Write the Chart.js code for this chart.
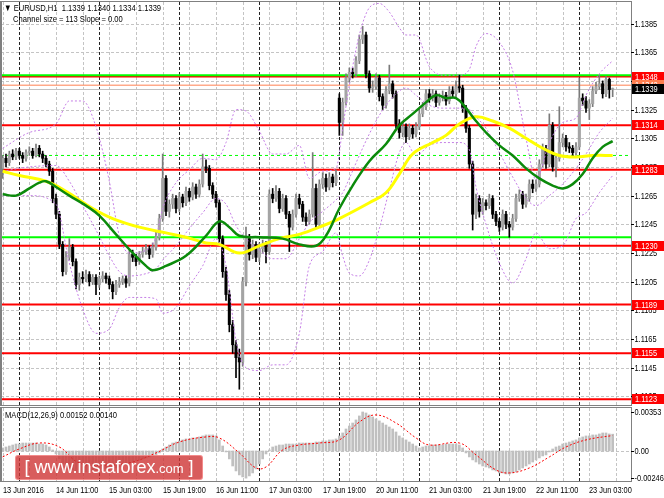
<!DOCTYPE html>
<html>
<head>
<meta charset="utf-8">
<script src="https://cdn.jsdelivr.net/npm/chart.js@4.4.0/dist/chart.umd.min.js"></script>
<style>
  body { margin: 0; background: #fff; width: 664px; height: 498px; overflow: hidden; position: relative; }
  canvas { position: absolute; left: 0; }
  #priceChart { top: 0; }
  #macdChart { top: 406px; }
  .txt { position: absolute; font: 9.5px "Liberation Sans", Arial, sans-serif; line-height: 11px; color: #000;
         white-space: pre; transform: scaleX(0.8); transform-origin: 0 0; }
  .logo { position: absolute; left: 15px; top: 455px; width: 186px; height: 23px; background: rgba(206, 52, 52, 0.8);
          border: 1px solid rgba(255, 160, 160, 0.7); border-radius: 3px; color: #fff; white-space: nowrap;
          font: 18px "Liberation Sans", Arial, sans-serif; line-height: 23px; text-align: center; }
  .logo small { font-size: 13px; }
</style>
</head>
<body>
<canvas id="priceChart" width="664" height="406"></canvas>
<canvas id="macdChart" width="664" height="92"></canvas>
<div class="txt" style="left:4px;top:2px">▼ EURUSD,H1  1.1339 1.1340 1.1334 1.1339</div>
<div class="txt" style="left:13px;top:13px">Channel size = 113 Slope = 0.00</div>
<div class="txt" style="left:5px;top:409px">MACD(12,26,9) 0.00152 0.00140</div>
<div class="logo">[ www.instaforex<small>.com</small> ]</div>
<script>
// EURUSD H1, 13 Jun 19:00 .. 23 Jun 10:00 (one entry per hourly bar)
const opens = [1.1284,1.1291,1.1288,1.1294,1.1292,1.1296,1.1293,1.1291,1.1295,1.1296,
  1.1293,1.1298,1.1294,1.1291,1.1287,1.1282,1.1263,1.1252,1.1231,1.1212,
  1.1222,1.1229,1.1219,1.1203,1.1208,1.1207,1.1210,1.1205,1.1208,1.1203,
  1.1207,1.1209,1.1207,1.1203,1.1198,1.1203,1.1205,1.1207,1.1204,1.1224,
  1.1222,1.1219,1.1224,1.1226,1.1228,1.1224,1.1229,1.1236,1.1249,1.1277,
  1.1254,1.1259,1.1263,1.1256,1.1264,1.1260,1.1268,1.1264,1.1271,1.1266,
  1.1273,1.1285,1.1284,1.1272,1.1266,1.1260,1.1235,1.1212,1.1196,1.1175,
  1.1161,1.1152,1.1149,1.1205,1.1235,1.1224,1.1231,1.1222,1.1228,1.1231,
  1.1226,1.1266,1.1263,1.1268,1.1256,1.1263,1.1252,1.1243,1.1252,1.1263,
  1.1259,1.1250,1.1247,1.1252,1.1270,1.1245,1.1273,1.1277,1.1271,1.1278,
  1.1274,1.1333,1.1316,1.1330,1.1347,1.1351,1.1350,1.1359,1.1374,1.1377,
  1.1350,1.1340,1.1341,1.1347,1.1334,1.1328,1.1338,1.1343,1.1336,1.1315,
  1.1309,1.1313,1.1306,1.1312,1.1308,1.1313,1.1322,1.1327,1.1336,1.1333,
  1.1336,1.1330,1.1333,1.1335,1.1331,1.1338,1.1336,1.1341,1.1340,1.1326,
  1.1312,1.1287,1.1252,1.1263,1.1254,1.1260,1.1258,1.1263,1.1252,1.1247,
  1.1243,1.1252,1.1245,1.1243,1.1249,1.1263,1.1266,1.1259,1.1263,1.1273,
  1.1270,1.1273,1.1287,1.1298,1.1287,1.1314,1.1285,1.1291,1.1302,1.1305,
  1.1299,1.1298,1.1295,1.1299,1.1333,1.1331,1.1326,1.1329,1.1338,1.1341,
  1.1343,1.1336,1.1346,1.1339];
const highs = [1.1293,1.1294,1.1296,1.1297,1.1298,1.1298,1.1295,1.1297,1.1299,1.1298,
  1.1301,1.1300,1.1296,1.1293,1.1289,1.1284,1.1266,1.1254,1.1233,1.1226,
  1.1235,1.1231,1.1221,1.1211,1.1212,1.1213,1.1212,1.1210,1.1210,1.1209,
  1.1212,1.1211,1.1209,1.1205,1.1206,1.1208,1.1209,1.1209,1.1227,1.1227,
  1.1224,1.1226,1.1229,1.1231,1.1230,1.1232,1.1240,1.1252,1.1294,1.1279,
  1.1262,1.1266,1.1265,1.1267,1.1266,1.1271,1.1270,1.1274,1.1273,1.1276,
  1.1294,1.1290,1.1286,1.1274,1.1268,1.1262,1.1237,1.1215,1.1199,1.1178,
  1.1164,1.1158,1.1208,1.1243,1.1238,1.1234,1.1233,1.1232,1.1234,1.1233,
  1.1269,1.1270,1.1272,1.1270,1.1266,1.1265,1.1254,1.1255,1.1266,1.1266,
  1.1261,1.1253,1.1255,1.1295,1.1273,1.1276,1.1281,1.1280,1.1281,1.1280,
  1.1283,1.1336,1.1333,1.1350,1.1354,1.1354,1.1362,1.1377,1.1383,1.1379,
  1.1352,1.1345,1.1350,1.1349,1.1336,1.1341,1.1356,1.1345,1.1338,1.1318,
  1.1316,1.1315,1.1315,1.1314,1.1316,1.1325,1.1330,1.1339,1.1339,1.1339,
  1.1338,1.1336,1.1338,1.1337,1.1341,1.1341,1.1345,1.1349,1.1342,1.1328,
  1.1314,1.1289,1.1266,1.1265,1.1263,1.1262,1.1266,1.1265,1.1254,1.1249,
  1.1255,1.1254,1.1247,1.1252,1.1266,1.1269,1.1268,1.1266,1.1276,1.1276,
  1.1276,1.1290,1.1301,1.1300,1.1322,1.1316,1.1294,1.1327,1.1308,1.1307,
  1.1302,1.1300,1.1302,1.1347,1.1336,1.1334,1.1332,1.1341,1.1344,1.1349,
  1.1345,1.1348,1.1347,1.1340];
const lows = [1.1277,1.1285,1.1286,1.1290,1.1290,1.1291,1.1288,1.1289,1.1293,1.1291,
  1.1292,1.1292,1.1288,1.1285,1.1279,1.1260,1.1249,1.1228,1.1209,1.1210,
  1.1220,1.1216,1.1200,1.1199,1.1204,1.1205,1.1202,1.1203,1.1196,1.1201,
  1.1205,1.1204,1.1200,1.1193,1.1196,1.1201,1.1203,1.1201,1.1202,1.1219,
  1.1216,1.1217,1.1222,1.1224,1.1221,1.1222,1.1227,1.1234,1.1247,1.1251,
  1.1250,1.1256,1.1253,1.1254,1.1257,1.1258,1.1261,1.1262,1.1263,1.1264,
  1.1271,1.1281,1.1269,1.1263,1.1257,1.1232,1.1208,1.1192,1.1170,1.1155,
  1.1138,1.1130,1.1146,1.1202,1.1220,1.1221,1.1219,1.1219,1.1225,1.1218,
  1.1224,1.1260,1.1261,1.1253,1.1254,1.1249,1.1226,1.1241,1.1250,1.1256,
  1.1247,1.1244,1.1245,1.1250,1.1242,1.1243,1.1270,1.1268,1.1269,1.1271,
  1.1272,1.1307,1.1307,1.1328,1.1344,1.1347,1.1348,1.1357,1.1371,1.1347,
  1.1337,1.1337,1.1339,1.1331,1.1325,1.1326,1.1336,1.1333,1.1312,1.1305,
  1.1306,1.1302,1.1304,1.1305,1.1306,1.1311,1.1320,1.1325,1.1330,1.1331,
  1.1327,1.1328,1.1331,1.1328,1.1329,1.1334,1.1334,1.1337,1.1323,1.1309,
  1.1284,1.1241,1.1249,1.1250,1.1252,1.1255,1.1256,1.1249,1.1244,1.1240,
  1.1241,1.1242,1.1236,1.1241,1.1247,1.1261,1.1256,1.1257,1.1261,1.1267,
  1.1268,1.1271,1.1285,1.1284,1.1285,1.1282,1.1278,1.1289,1.1299,1.1296,
  1.1295,1.1292,1.1293,1.1297,1.1328,1.1323,1.1318,1.1327,1.1336,1.1339,
  1.1333,1.1334,1.1333,1.1334];
const closes = [1.1291,1.1288,1.1294,1.1292,1.1296,1.1293,1.1291,1.1295,1.1296,1.1293,
  1.1298,1.1294,1.1291,1.1287,1.1282,1.1263,1.1252,1.1231,1.1212,1.1222,
  1.1229,1.1219,1.1203,1.1208,1.1207,1.1210,1.1205,1.1208,1.1203,1.1207,
  1.1209,1.1207,1.1203,1.1198,1.1203,1.1205,1.1207,1.1204,1.1224,1.1222,
  1.1219,1.1224,1.1226,1.1228,1.1224,1.1229,1.1236,1.1249,1.1277,1.1254,
  1.1259,1.1263,1.1256,1.1264,1.1260,1.1268,1.1264,1.1271,1.1266,1.1273,
  1.1285,1.1284,1.1272,1.1266,1.1260,1.1235,1.1212,1.1196,1.1175,1.1161,
  1.1152,1.1149,1.1205,1.1235,1.1224,1.1231,1.1222,1.1228,1.1231,1.1226,
  1.1266,1.1263,1.1268,1.1256,1.1263,1.1252,1.1243,1.1252,1.1263,1.1259,
  1.1250,1.1247,1.1252,1.1270,1.1245,1.1273,1.1277,1.1271,1.1278,1.1274,
  1.1279,1.1316,1.1330,1.1347,1.1351,1.1350,1.1359,1.1374,1.1377,1.1350,
  1.1340,1.1341,1.1347,1.1334,1.1328,1.1338,1.1343,1.1336,1.1315,1.1309,
  1.1313,1.1306,1.1312,1.1308,1.1313,1.1322,1.1327,1.1336,1.1333,1.1336,
  1.1330,1.1333,1.1335,1.1331,1.1338,1.1336,1.1341,1.1340,1.1326,1.1312,
  1.1287,1.1252,1.1263,1.1254,1.1260,1.1258,1.1263,1.1252,1.1247,1.1243,
  1.1252,1.1245,1.1243,1.1249,1.1263,1.1266,1.1259,1.1263,1.1273,1.1270,
  1.1273,1.1287,1.1298,1.1287,1.1314,1.1285,1.1291,1.1302,1.1305,1.1299,
  1.1298,1.1295,1.1299,1.1333,1.1331,1.1326,1.1329,1.1338,1.1341,1.1343,
  1.1336,1.1346,1.1339,1.1339];

// indicator lines (bar index -> value)
const maFastAt = [0,4,8,11,13,16,20,25,29,34,39,43,45,49,55,61,65,68,71,77,84,89,94,97,101,105,110,115,119,123,127,130,133,136,139,142,145,149,153,157,161,165,168,171,174,177,180,183];
const maFast = [1.1266,1.1265,1.1270,1.1274,1.1275,1.1271,1.1265,1.1258,1.1251,1.1238,1.1225,1.1216,1.1213,1.1216,1.1223,1.1237,1.1247,1.1243,1.1237,1.1236,1.1235,1.1231,1.1230,1.1237,1.1256,1.1272,1.1289,1.1301,1.1314,1.1322,1.1330,1.1335,1.1333,1.1333,1.1326,1.1317,1.1309,1.1300,1.1293,1.1284,1.1277,1.1272,1.1270,1.1273,1.1280,1.1291,1.1299,1.1303];
const maSlowAt = [0,5,13,19,27,33,41,49,55,61,65,71,77,83,89,95,101,110,115,119,123,129,133,137,142,147,152,157,162,167,172,177,183];
const maSlow = [1.1282,1.1279,1.1275,1.1268,1.1256,1.1249,1.1243,1.1239,1.1236,1.1232,1.1231,1.1225,1.1230,1.1235,1.1238,1.1243,1.1249,1.1260,1.1267,1.1280,1.1294,1.1302,1.1307,1.1315,1.1320,1.1317,1.1312,1.1305,1.1298,1.1293,1.1292,1.1293,1.1293];
const bandAt = [0,8,16,20,24,28,32,35,38,42,46,48,52,56,60,64,67,70,73,77,81,85,89,92,96,100,102,104,107,110,113,116,119,121,124,128,132,137,140,142,145,149,153,157,160,164,168,172,175,179,183];
const bandUp = [1.1298,1.1309,1.1315,1.1331,1.1331,1.1313,1.1275,1.1237,1.1225,1.1226,1.1236,1.1256,1.1274,1.1283,1.1291,1.1290,1.1302,1.1325,1.1324,1.1310,1.1294,1.1294,1.1300,1.1277,1.1282,1.1284,1.1312,1.1342,1.1377,1.1396,1.1399,1.1393,1.1382,1.1377,1.1377,1.1355,1.1349,1.1349,1.1353,1.1369,1.1378,1.1372,1.1352,1.1305,1.1276,1.1302,1.1316,1.1319,1.1335,1.1350,1.1359];
const bandMid = [1.1282,1.1285,1.1286,1.1275,1.1258,1.1241,1.1223,1.1212,1.1209,1.1210,1.1214,1.1220,1.1230,1.1242,1.1253,1.1263,1.1259,1.1244,1.1235,1.1227,1.1221,1.1221,1.1235,1.1246,1.1254,1.1262,1.1267,1.1277,1.1293,1.1308,1.1321,1.1331,1.1338,1.1340,1.1335,1.1328,1.1326,1.1326,1.1325,1.1320,1.1312,1.1295,1.1278,1.1263,1.1258,1.1265,1.1273,1.1284,1.1294,1.1309,1.1319];
const bandLow = [1.1265,1.1265,1.1259,1.1218,1.1186,1.1169,1.1172,1.1187,1.1194,1.1194,1.1193,1.1183,1.1187,1.1202,1.1216,1.1235,1.1216,1.1164,1.1145,1.1143,1.1147,1.1147,1.1169,1.1216,1.1226,1.1239,1.1223,1.1211,1.1209,1.1220,1.1242,1.1269,1.1295,1.1302,1.1293,1.1300,1.1302,1.1302,1.1297,1.1271,1.1245,1.1218,1.1204,1.1221,1.1239,1.1228,1.1230,1.1249,1.1253,1.1267,1.1279];

// horizontal levels
const redLevels = [1.1348, 1.1314, 1.1283, 1.1230, 1.1189, 1.1155, 1.1123];
const greenLevels = [1.1349, 1.1236];
const channelMid = 1.1293;
const bidPrice = 1.1339;
const askPrice = 1.1342;
const priceTicks = [1.1385, 1.1365, 1.1345, 1.1325, 1.1305, 1.1285, 1.1265, 1.1245, 1.1225, 1.1205, 1.1185, 1.1165, 1.1145, 1.1125];

// MACD(12,26,9)
const macd = [0.00027,0.00036,0.00045,0.00054,0.00063,0.00063,0.00072,0.00072,0.00072,0.00072,
  0.00072,0.00063,0.00063,0.00054,0.00036,0.00009,-0.00027,-0.00072,-0.00118,-0.00145,
  -0.00163,-0.00172,-0.0019,-0.00199,-0.00199,-0.0019,-0.0019,-0.00181,-0.00181,-0.00172,
  -0.00163,-0.00163,-0.00163,-0.00163,-0.00154,-0.00145,-0.00136,-0.00127,-0.00109,-0.001,
  -0.00091,-0.00081,-0.00072,-0.00063,-0.00054,-0.00045,-0.00036,-0.00018,0.00018,0.00036,
  0.00054,0.00072,0.00081,0.00091,0.001,0.00109,0.00109,0.00118,0.00118,0.00127,
  0.00136,0.00145,0.00145,0.00145,0.00136,0.001,0.00045,-0.00009,-0.00072,-0.00136,
  -0.00181,-0.00217,-0.00235,-0.00246,-0.00226,-0.00199,-0.00163,-0.00118,-0.00072,-0.00027,
  0.00009,0.00036,0.00045,0.00054,0.00054,0.00063,0.00063,0.00063,0.00063,0.00072,
  0.00072,0.00072,0.00072,0.00072,0.00081,0.00081,0.00091,0.00091,0.001,0.001,
  0.00109,0.00136,0.00163,0.00199,0.00226,0.00253,0.00281,0.00317,0.00353,0.00344,
  0.00326,0.00308,0.0029,0.00272,0.00253,0.00235,0.00217,0.00199,0.00172,0.00136,
  0.00118,0.001,0.00081,0.00063,0.00045,0.00027,0.00036,0.00045,0.00045,0.00054,
  0.00054,0.00054,0.00054,0.00063,0.00063,0.00063,0.00063,0.00054,0.00027,-0.00018,
  -0.00054,-0.00081,-0.001,-0.00118,-0.00136,-0.00145,-0.00154,-0.00172,-0.00181,-0.00199,
  -0.00199,-0.00208,-0.00208,-0.00199,-0.0019,-0.00172,-0.00154,-0.00136,-0.00118,-0.001,
  -0.00081,-0.00063,-0.00045,-0.00036,-0.00009,0.00018,0.00036,0.00045,0.00063,0.00072,
  0.00081,0.00091,0.001,0.00118,0.00127,0.00136,0.00136,0.00145,0.00145,0.00154,
  0.00163,0.00163,0.00154,0.00152];
const signalAt = [0,5,11,17,23,32,39,46,53,61,65,71,76,79,84,89,95,101,107,112,118,124,128,137,142,148,152,158,164,169,175,183];
const signal = [-0.00054,0.00018,0.00072,0.00036,-0.00109,-0.00127,-0.001,-0.00018,0.00081,0.00127,0.00118,-0.00018,-0.00154,-0.00145,0.00009,0.00054,0.00072,0.001,0.00262,0.00326,0.00253,0.00118,0.00054,0.00072,-0.00036,-0.00172,-0.00199,-0.00154,-0.00054,0.00036,0.001,0.0014];
const macdTicks = [0.00353, 0, -0.00246];

// time axis: label every 16 bars, day starts (00:00) marked black
const timeLabels = ['13 Jun 2016', '14 Jun 11:00', '15 Jun 03:00', '15 Jun 19:00', '16 Jun 11:00', '17 Jun 03:00',
  '17 Jun 19:00', '20 Jun 11:00', '21 Jun 03:00', '21 Jun 19:00', '22 Jun 11:00', '23 Jun 03:00'];
const dayStarts = [5, 29, 53, 77, 101, 125, 149, 173];

const FONT = '9.5px "Liberation Sans", Arial, sans-serif';
const isUp = i => closes[i] >= opens[i];
const pts = (at, vals) => vals.map((v, k) => ({ x: at[k], y: v }));

function dashed(ctx, x1, y1, x2, y2, color, dash) {
  ctx.beginPath();
  ctx.strokeStyle = color;
  ctx.setLineDash(dash);
  ctx.moveTo(x1, y1);
  ctx.lineTo(x2, y2);
  ctx.stroke();
}

// terminal font is narrow, squeeze the text a bit
function narrowText(ctx, text, x, y) {
  ctx.save();
  ctx.translate(x, y);
  ctx.scale(0.78, 1);
  ctx.fillText(text, 0, 0);
  ctx.restore();
}

// MT4 style grid: grey every 8 bars, black dotted at midnight, grey rows
const gridPlugin = {
  id: 'mtGrid',
  beforeDatasetsDraw(chart, args, opts) {
    const { ctx, chartArea: a, scales } = chart;
    ctx.save();
    ctx.lineWidth = 1;
    (opts.rows || []).forEach(v => {
      const y = Math.round(scales.y.getPixelForValue(v)) + 0.5;
      dashed(ctx, a.left, y, a.right, y, '#c4c4c4', [3, 2]);
    });
    for (let i = 0; i < 189; i += 8) {
      const x = Math.round(scales.x.getPixelForValue(i)) + 0.5;
      dashed(ctx, x, a.top, x, a.bottom, '#c4c4c4', [3, 2]);
    }
    dayStarts.forEach(i => {
      const x = Math.round(scales.x.getPixelForValue(i)) + 0.5;
      dashed(ctx, x, a.top, x, a.bottom, '#222', [3, 2]);
    });
    ctx.restore();
  },
  afterDraw(chart) {
    const { ctx, chartArea: a } = chart;
    ctx.save();
    ctx.strokeStyle = '#808080';
    ctx.lineWidth = 1;
    ctx.strokeRect(a.left - 0.5, a.top - 0.5, a.right - a.left + 1, a.bottom - a.top + 1);
    ctx.fillStyle = '#808080';
    ctx.fillRect(0, a.top - 1, 2, a.bottom - a.top + 2);
    ctx.restore();
  }
};

// right price scale with small tick marks
function rightAxis(ticks, fmt) {
  return {
    id: 'rightAxis',
    afterDraw(chart) {
      const { ctx, chartArea: a, scales: { y } } = chart;
      ctx.save();
      ctx.font = FONT;
      ctx.textBaseline = 'middle';
      ctx.fillStyle = '#000';
      ctx.strokeStyle = '#000';
      ctx.lineWidth = 1;
      ticks.forEach(v => {
        const py = Math.round(y.getPixelForValue(v)) + 0.5;
        ctx.beginPath();
        ctx.moveTo(a.right, py);
        ctx.lineTo(a.right + 3, py);
        ctx.stroke();
        narrowText(ctx, fmt(v), a.right + 3.5, py);
      });
      ctx.restore();
    }
  };
}

function tag(ctx, y, text, bg) {
  ctx.fillStyle = bg;
  ctx.fillRect(632, Math.round(y) - 5, 32, 10);
  ctx.fillStyle = '#fff';
  narrowText(ctx, text, 635, Math.round(y) + 0.5);
}

const levelsPlugin = {
  id: 'levels',
  beforeDatasetsDraw(chart) {
    const { ctx, chartArea: a, scales: { y } } = chart;
    const hline = (v, color, width, dash) => {
      ctx.lineWidth = width;
      const py = y.getPixelForValue(v);
      dashed(ctx, a.left, py, a.right, py, color, dash);
    };
    ctx.save();
    hline(channelMid, '#00ff00', 1, [3, 3]);
    hline(bidPrice, '#c0c0c0', 1, []);
    hline(askPrice, '#ff7f50', 1, []);
    redLevels.forEach(v => hline(v, '#ff0000', 2, []));
    greenLevels.forEach(v => hline(v, '#00ff00', 2, []));
    ctx.restore();
  },
  afterDraw(chart) {
    const { ctx, scales: { y } } = chart;
    ctx.save();
    ctx.font = FONT;
    ctx.textBaseline = 'middle';
    redLevels.forEach(v => tag(ctx, y.getPixelForValue(v), v.toFixed(4), '#ff0000'));
    tag(ctx, y.getPixelForValue(askPrice), askPrice.toFixed(4), '#ff7f50');
    tag(ctx, y.getPixelForValue(bidPrice), bidPrice.toFixed(4), '#000');
    ctx.restore();
  }
};

const timeAxisPlugin = {
  id: 'timeAxis',
  afterDraw(chart) {
    const { ctx, chartArea: a, scales: { x } } = chart;
    ctx.save();
    ctx.font = FONT;
    ctx.fillStyle = '#000';
    ctx.textBaseline = 'middle';
    timeLabels.forEach((t, k) => narrowText(ctx, t, Math.round(x.getPixelForValue(k * 16)), a.bottom + 9));
    ctx.restore();
  }
};

const xScale = { type: 'linear', min: -0.5, max: 188.5, offset: false, display: false };
const bandLine = (vals) => ({ type: 'line', data: pts(bandAt, vals), borderColor: '#c57fe6', borderWidth: 1, borderDash: [2, 2],
  pointRadius: 0, cubicInterpolationMode: 'monotone', order: 2 });

const priceChart = new Chart(document.getElementById('priceChart'), {
  type: 'bar',
  data: {
    datasets: [
      { type: 'line', data: pts(maFastAt, maFast), borderColor: '#0b8a0b', borderWidth: 2.5, pointRadius: 0, tension: 0.4, order: 0 },
      { type: 'line', data: pts(maSlowAt, maSlow), borderColor: '#ffff00', borderWidth: 3, pointRadius: 0, tension: 0.4, order: 1 },
      bandLine(bandUp),
      bandLine(bandMid),
      bandLine(bandLow),
      { data: closes.map((c, i) => ({ x: i, y: [opens[i], c] })), grouped: false, barThickness: 2.4, minBarLength: 1,
        backgroundColor: c => isUp(c.dataIndex) ? '#a4a4a4' : '#000', order: 4 },
      { data: closes.map((c, i) => ({ x: i, y: [lows[i], highs[i]] })), grouped: false, barThickness: 1,
        backgroundColor: c => isUp(c.dataIndex) ? '#7a7a7a' : '#000', order: 5 }
    ]
  },
  options: {
    responsive: false,
    animation: false,
    events: [],
    layout: { padding: { left: 1, top: 2, bottom: 1, right: 33 } },
    plugins: { legend: { display: false }, tooltip: { enabled: false }, mtGrid: { rows: priceTicks } },
    scales: { x: xScale, y: { display: false, min: 1.1119, max: 1.1400 } }
  },
  plugins: [gridPlugin, rightAxis(priceTicks, v => v.toFixed(4)), levelsPlugin]
});

const macdChart = new Chart(document.getElementById('macdChart'), {
  type: 'bar',
  data: {
    datasets: [
      { type: 'line', data: pts(signalAt, signal), borderColor: '#ff0000', borderWidth: 1, borderDash: [2, 2], pointRadius: 0, tension: 0.4, order: 0 },
      { data: macd.map((v, i) => ({ x: i, y: v })), grouped: false, barThickness: 2, backgroundColor: '#c0c0c0', order: 1 }
    ]
  },
  options: {
    responsive: false,
    animation: false,
    events: [],
    layout: { padding: { left: 1, top: 2, bottom: 17, right: 33 } },
    plugins: { legend: { display: false }, tooltip: { enabled: false }, mtGrid: { rows: [0] } },
    scales: { x: xScale, y: { display: false, min: -0.00272, max: 0.00389 } }
  },
  plugins: [gridPlugin, rightAxis(macdTicks, v => v === 0 ? '0.00' : v.toFixed(5)), timeAxisPlugin]
});
</script>
</body>
</html>
